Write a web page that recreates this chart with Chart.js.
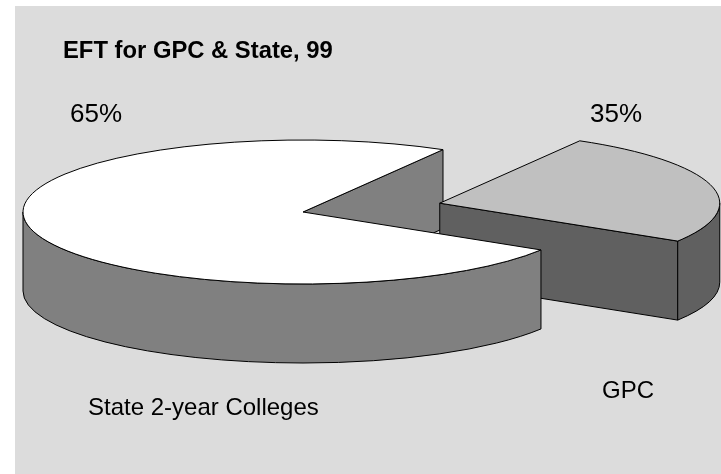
<!DOCTYPE html>
<html>
<head>
<meta charset="utf-8">
<script src="https://cdn.jsdelivr.net/npm/chart.js@4"></script>
<style>
  html, body { margin: 0; padding: 0; background: #fff; }
  #wrap { position: absolute; left: 0; top: 0; width: 721px; height: 474px; }
</style>
</head>
<body>
<div id="wrap"><canvas id="chart" width="721" height="474"></canvas></div>
<script>
// ---- DATOS ----
var TITLE = "EFT for GPC & State, 99";
var CATEGORIES = ["State 2-year Colleges", "GPC"];
var PCT_LABELS = ["65%", "35%"];
// sweep of each slice as it is drawn in the picture (not the printed percentages)
var DRAWN_SHARE = [74.5, 25.5];
var TOP_COLORS = ["#ffffff", "#c0c0c0"];
var SIDE_COLORS = ["#808080", "#606060"];

// ---- GEOMETRIA ----
var PANEL = { x: 15, y: 6, w: 706, h: 468, color: "#dcdcdc" };
var CX = 303, CY = 212, RX = 280, RY = 72, DEPTH = 79;
var EXPLODE = 141;
var TEXTS = [
  { i: 0, x: 88, y: 415 }, { i: 1, x: 602, y: 398 }
];
var PCTS = [{ x: 70, y: 122 }, { x: 590, y: 122 }];

function pt(a, ox, oy) {
  return { x: CX + ox + Math.cos(a) * RX, y: CY + oy + Math.sin(a) * RY };
}

function wedgePath(ctx, s, e, ox, oy) {
  var p = pt(s, ox, oy);
  ctx.beginPath();
  ctx.moveTo(CX + ox, CY + oy);
  ctx.lineTo(p.x, p.y);
  ctx.ellipse(CX + ox, CY + oy, RX, RY, 0, s, e);
  ctx.closePath();
}

function sideFace(ctx, s, e, ox, oy, color) {
  // pared curva: solo la parte del borde que mira hacia abajo (sin 0..PI)
  var tau = Math.PI * 2;
  for (var k = -1; k <= 1; k++) {
    var a0 = Math.max(s, k * tau), a1 = Math.min(e, k * tau + Math.PI);
    if (a1 <= a0) continue;
    ctx.beginPath();
    ctx.ellipse(CX + ox, CY + oy, RX, RY, 0, a0, a1);
    ctx.ellipse(CX + ox, CY + oy + DEPTH, RX, RY, 0, a1, a0, true);
    ctx.closePath();
    ctx.fillStyle = color;
    ctx.fill();
    ctx.stroke();
  }
}

function cutFace(ctx, a, ox, oy, color) {
  var p = pt(a, ox, oy);
  var ax = CX + ox, ay = CY + oy;
  ctx.beginPath();
  ctx.moveTo(ax, ay);
  ctx.lineTo(p.x, p.y);
  ctx.lineTo(p.x, p.y + DEPTH);
  ctx.lineTo(ax, ay + DEPTH);
  ctx.closePath();
  ctx.fillStyle = color;
  ctx.fill();
  ctx.stroke();
}

// ---- PLUGIN 3D ----
var pie3d = {
  id: "pie3d",
  beforeDraw: function(chart) {
    var ctx = chart.ctx;
    ctx.fillStyle = PANEL.color;
    ctx.fillRect(PANEL.x, PANEL.y, PANEL.w, PANEL.h);
  },
  beforeDatasetsDraw: function(chart) {
    var ctx = chart.ctx;
    var arcs = chart.getDatasetMeta(0).data;
    var big = arcs[0], gpc = arcs[1];
    var mid = (gpc.startAngle + gpc.endAngle) / 2;
    var ox = Math.cos(mid) * EXPLODE;
    var oy = Math.sin(mid) * EXPLODE * RY / RX;

    ctx.save();
    ctx.strokeStyle = "#000";
    ctx.lineWidth = 1;
    ctx.lineJoin = "round";

    // pared interior de la porcion grande, queda detras de GPC
    cutFace(ctx, big.endAngle, 0, 0, SIDE_COLORS[0]);

    // GPC
    cutFace(ctx, gpc.endAngle, ox, oy, SIDE_COLORS[1]);
    sideFace(ctx, gpc.startAngle, gpc.endAngle, ox, oy, SIDE_COLORS[1]);
    wedgePath(ctx, gpc.startAngle, gpc.endAngle, ox, oy);
    ctx.fillStyle = TOP_COLORS[1];
    ctx.fill();
    ctx.stroke();

    // porcion grande encima
    sideFace(ctx, big.startAngle, big.endAngle, 0, 0, SIDE_COLORS[0]);
    wedgePath(ctx, big.startAngle, big.endAngle, 0, 0);
    ctx.fillStyle = TOP_COLORS[0];
    ctx.fill();
    ctx.stroke();

    ctx.restore();
    return false;
  },
  afterDraw: function(chart) {
    var ctx = chart.ctx;
    ctx.save();
    ctx.fillStyle = "#000";
    ctx.textBaseline = "alphabetic";
    ctx.font = "bold 23.8px 'Liberation Sans', Arial, sans-serif";
    ctx.fillText(TITLE, 63, 58);
    ctx.font = "26px 'Liberation Sans', Arial, sans-serif";
    PCT_LABELS.forEach(function(t, i) { ctx.fillText(t, PCTS[i].x, PCTS[i].y); });
    ctx.font = "24px 'Liberation Sans', Arial, sans-serif";
    TEXTS.forEach(function(t) { ctx.fillText(CATEGORIES[t.i], t.x, t.y); });
    ctx.restore();
  }
};

// ---- INIT ----
new Chart(document.getElementById("chart"), {
  type: "pie",
  data: {
    labels: CATEGORIES,
    datasets: [{ data: DRAWN_SHARE, backgroundColor: TOP_COLORS }]
  },
  options: {
    responsive: false,
    animation: false,
    rotation: 121.8,
    plugins: { legend: { display: false }, tooltip: { enabled: false } }
  },
  plugins: [pie3d]
});
</script>
</body>
</html>
